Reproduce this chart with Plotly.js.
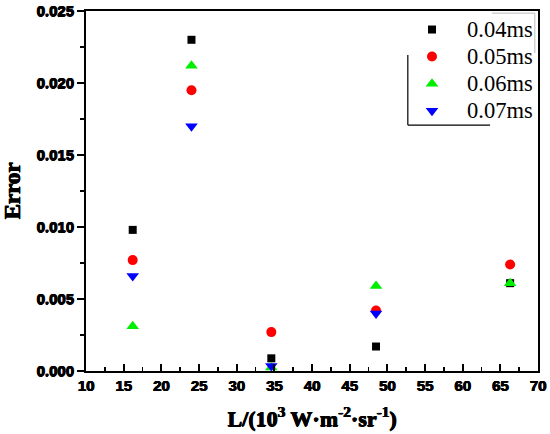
<!DOCTYPE html>
<html>
<head>
<meta charset="utf-8">
<script src="https://cdn.plot.ly/plotly-3.0.1.min.js"></script>
<style>html,body{margin:0;padding:0;background:#fff;}#chart{width:550px;height:434px;}</style>
</head>
<body>
<div id="chart"></div>
<script>
var radiance = [16.2, 24.0, 34.6, 48.5, 66.3];
var seriesNames = ['0.04ms', '0.05ms', '0.06ms', '0.07ms'];
var err004 = [0.0098, 0.0230, 0.00088, 0.0017, 0.0061];
var err005 = [0.0077, 0.0195, 0.0027, 0.0042, 0.0074];
var err006 = [0.0031, 0.0212, 0.00025, 0.0059, 0.0061];
var err007 = [0.0066, 0.0170, 0.00035, 0.0040, null];
var seriesValues = [err004, err005, err006, err007];
var xTickVals = [10, 15, 20, 25, 30, 35, 40, 45, 50, 55, 60, 65, 70];
var yTickVals = [0, 0.005, 0.010, 0.015, 0.020, 0.025];
var colors = ['#000000', '#ff0000', '#00ee00', '#0000ff'];
var symbols = ['square', 'circle', 'triangle-up', 'triangle-down'];
var sizes = [8, 10, 11, 11];

var traces = seriesValues.map(function (v, i) {
  return {
    x: radiance, y: v, type: 'scatter', mode: 'markers',
    name: '<span style="font-size:22.5px">' + seriesNames[i] + '</span>',
    marker: {color: colors[i], symbol: symbols[i], size: sizes[i], line: {width: 0}}
  };
});

var boldShadow = '0.7px 0 0 #000, -0.2px 0 0 #000, 0 0.3px 0 #000';
var tickFont = {family: 'Arial', size: 15, color: '#000', weight: 'bold', shadow: boldShadow};
var titleFont = {family: 'Times New Roman', size: 23, color: '#000', weight: 'bold', shadow: boldShadow};

var layout = {
  width: 550, height: 434,
  margin: {l: 86, r: 12, t: 11, b: 63},
  paper_bgcolor: '#fff', plot_bgcolor: '#fff',
  showlegend: true,
  legend: {x: 1, xanchor: 'right', y: 1, yanchor: 'top', bgcolor: 'rgba(0,0,0,0)',
           font: {family: 'Times New Roman', size: 18.5, color: '#000'},
           itemwidth: 60, tracegroupgap: 0},
  xaxis: {
    range: [10, 70], showgrid: false, zeroline: false,
    showline: true, linecolor: '#000', linewidth: 2, mirror: true,
    tickmode: 'array', tickvals: xTickVals,
    ticktext: xTickVals.map(function (t) { return String(t); }),
    ticks: 'inside', ticklen: 7, tickwidth: 2, tickcolor: '#000',
    minor: {dtick: 2.5, tick0: 10, ticks: 'inside', ticklen: 4, tickwidth: 1.5, tickcolor: '#000'},
    tickfont: tickFont,
    title: {text: 'L/(10<sup>3</sup> W·m<sup>-2</sup>·sr<sup>-1</sup>)', font: {family: 'Times New Roman', size: 22, color: '#000', weight: 'bold', shadow: boldShadow}, standoff: 18}
  },
  yaxis: {
    range: [0, 0.025], showgrid: false, zeroline: false,
    showline: true, linecolor: '#000', linewidth: 2, mirror: true,
    tickmode: 'array', tickvals: yTickVals,
    ticktext: yTickVals.map(function (t) { return t.toFixed(3); }),
    ticks: 'outside', ticklen: 7, tickwidth: 2, tickcolor: '#000',
    minor: {dtick: 0.0025, tick0: 0, ticks: 'outside', ticklen: 4, tickwidth: 1.5, tickcolor: '#000'},
    tickfont: tickFont,
    title: {text: '\u00a0\u00a0\u00a0Error', font: titleFont, standoff: 13}
  },
  shapes: [
    {type: 'line', xref: 'paper', yref: 'paper', x0: 0.712, x1: 0.712, y0: 0.878, y1: 0.683, line: {color: '#000', width: 1.2}},
    {type: 'line', xref: 'paper', yref: 'paper', x0: 0.712, x1: 0.894, y0: 0.683, y1: 0.683, line: {color: '#000', width: 1.2}},
    {type: 'line', xref: 'paper', yref: 'paper', x0: 0.898, x1: 0.993, y0: 0.994, y1: 0.994, line: {color: '#bbb', width: 1}},
    {type: 'line', xref: 'paper', yref: 'paper', x0: 0.993, x1: 0.993, y0: 0.994, y1: 0.883, line: {color: '#bbb', width: 1}}
  ]
};

Plotly.newPlot('chart', traces, layout, {displayModeBar: false, staticPlot: true});
</script>
</body>
</html>
